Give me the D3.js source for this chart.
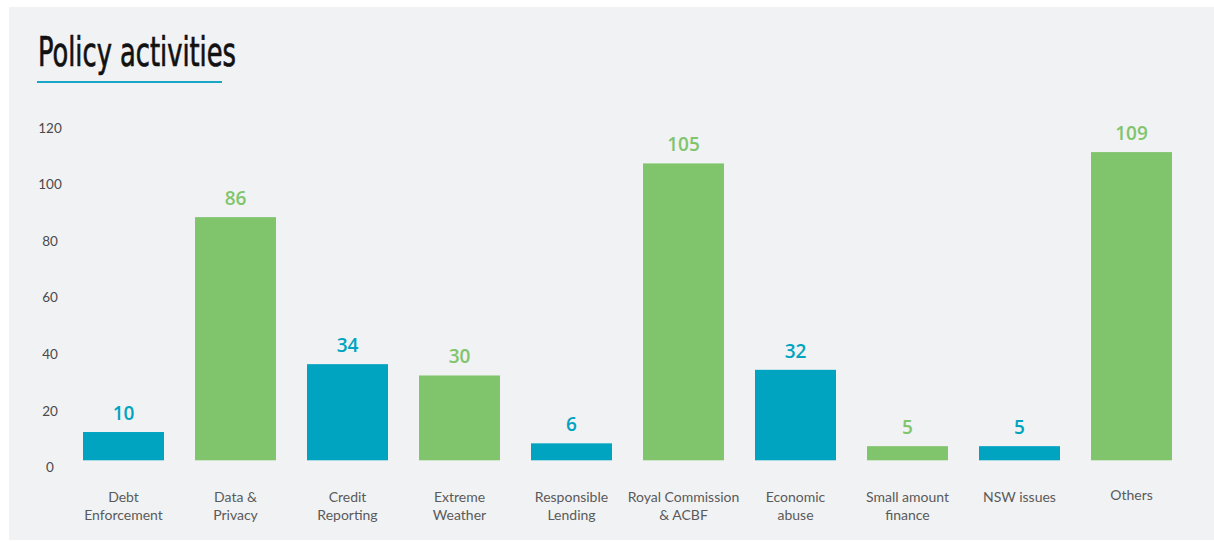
<!DOCTYPE html>
<html>
<head>
<meta charset="utf-8">
<script src="https://cdn.jsdelivr.net/npm/d3@7.9.0/dist/d3.min.js"></script>
<style>
  html, body { margin: 0; padding: 0; background: #ffffff; }
  svg { display: block; }
</style>
</head>
<body>
<div id="chart"></div>
<script>
// === Data ===
const categories = [
    ["Debt", "Enforcement"],
    ["Data &", "Privacy"],
    ["Credit", "Reporting"],
    ["Extreme", "Weather"],
    ["Responsible", "Lending"],
    ["Royal Commission", "& ACBF"],
    ["Economic", "abuse"],
    ["Small amount", "finance"],
    ["NSW issues"],
    ["Others"]
];
const values = [10, 86, 34, 30, 6, 105, 32, 5, 5, 109];
const seriesType = ["teal", "green", "teal", "green", "teal", "green", "teal", "green", "teal", "green"];
const yTicks = [0, 20, 40, 60, 80, 100, 120];

// === Look ===
const W = 1214, H = 542;
const colors = { teal: "#00a3c0", green: "#80c56c" };

const svg = d3.select("#chart")
    .append("svg")
    .attr("width", W)
    .attr("height", H);

// grey panel
svg.append("rect")
    .attr("x", 9).attr("y", 7)
    .attr("width", W - 9).attr("height", 533)
    .attr("fill", "#f1f2f4");

// title + underline
svg.append("text")
    .attr("x", 38)
    .attr("y", 66)
    .attr("font-family", "'Liberation Sans Narrow', 'DejaVu Sans Condensed', 'Roboto', sans-serif")
    .attr("font-size", 40)
    .attr("fill", "#111")
    .attr("stroke", "#111")
    .attr("stroke-width", 0.7)
    .attr("textLength", 198)
    .attr("lengthAdjust", "spacingAndGlyphs")
    .text("Policy activities");

svg.append("line")
    .attr("x1", 37).attr("x2", 222)
    .attr("y1", 82).attr("y2", 82)
    .attr("stroke", "#1aa7c7")
    .attr("stroke-width", 2);

// === Scales ===
const x = d3.scaleBand()
    .domain(d3.range(values.length))
    .range([67.5, 1187.5])
    .paddingInner(0.277)
    .paddingOuter(0.1385);

const y = d3.scaleLinear()
    .domain([0, 120])
    .range([460.3, 121]);

// y axis (labels only, no line)
const yAxisG = svg.append("g")
    .attr("transform", "translate(50,7)")
    .call(d3.axisLeft(y).tickValues(yTicks).tickSize(0).tickPadding(0));
yAxisG.select(".domain").remove();
yAxisG.selectAll("text")
    .attr("text-anchor", "middle")
    .attr("font-family", "Lato, 'Open Sans', sans-serif")
    .attr("font-size", 13.5)
    .attr("fill", "#4a4a4a");

// bars
svg.selectAll("rect.bar")
    .data(values)
    .join("rect")
    .attr("class", "bar")
    .attr("x", (d, i) => x(i))
    .attr("y", d => y(d))
    .attr("width", x.bandwidth())
    .attr("height", d => y(0) - y(d))
    .attr("fill", (d, i) => colors[seriesType[i]]);

// value labels
svg.selectAll("text.val")
    .data(values)
    .join("text")
    .attr("class", "val")
    .attr("x", (d, i) => x(i) + x.bandwidth() / 2)
    .attr("y", d => y(d) - 12)
    .attr("text-anchor", "middle")
    .attr("font-family", "'Open Sans', 'Noto Sans', sans-serif")
    .attr("font-weight", 600)
    .attr("font-size", 19)
    .attr("fill", (d, i) => colors[seriesType[i]])
    .text(d => d);

// category labels
const cat = svg.selectAll("text.cat")
    .data(categories)
    .join("text")
    .attr("class", "cat")
    .attr("x", (d, i) => x(i) + x.bandwidth() / 2)
    .attr("y", (d, i) => i === categories.length - 1 ? 500 : 502)
    .attr("text-anchor", "middle")
    .attr("font-family", "Lato, 'Open Sans', sans-serif")
    .attr("font-size", 14)
    .attr("fill", "#5a5a5a");

cat.selectAll("tspan")
    .data(d => d)
    .join("tspan")
    .attr("x", function() { return d3.select(this.parentNode).attr("x"); })
    .attr("dy", (d, j) => j === 0 ? 0 : 18)
    .text(d => d);
</script>
</body>
</html>
